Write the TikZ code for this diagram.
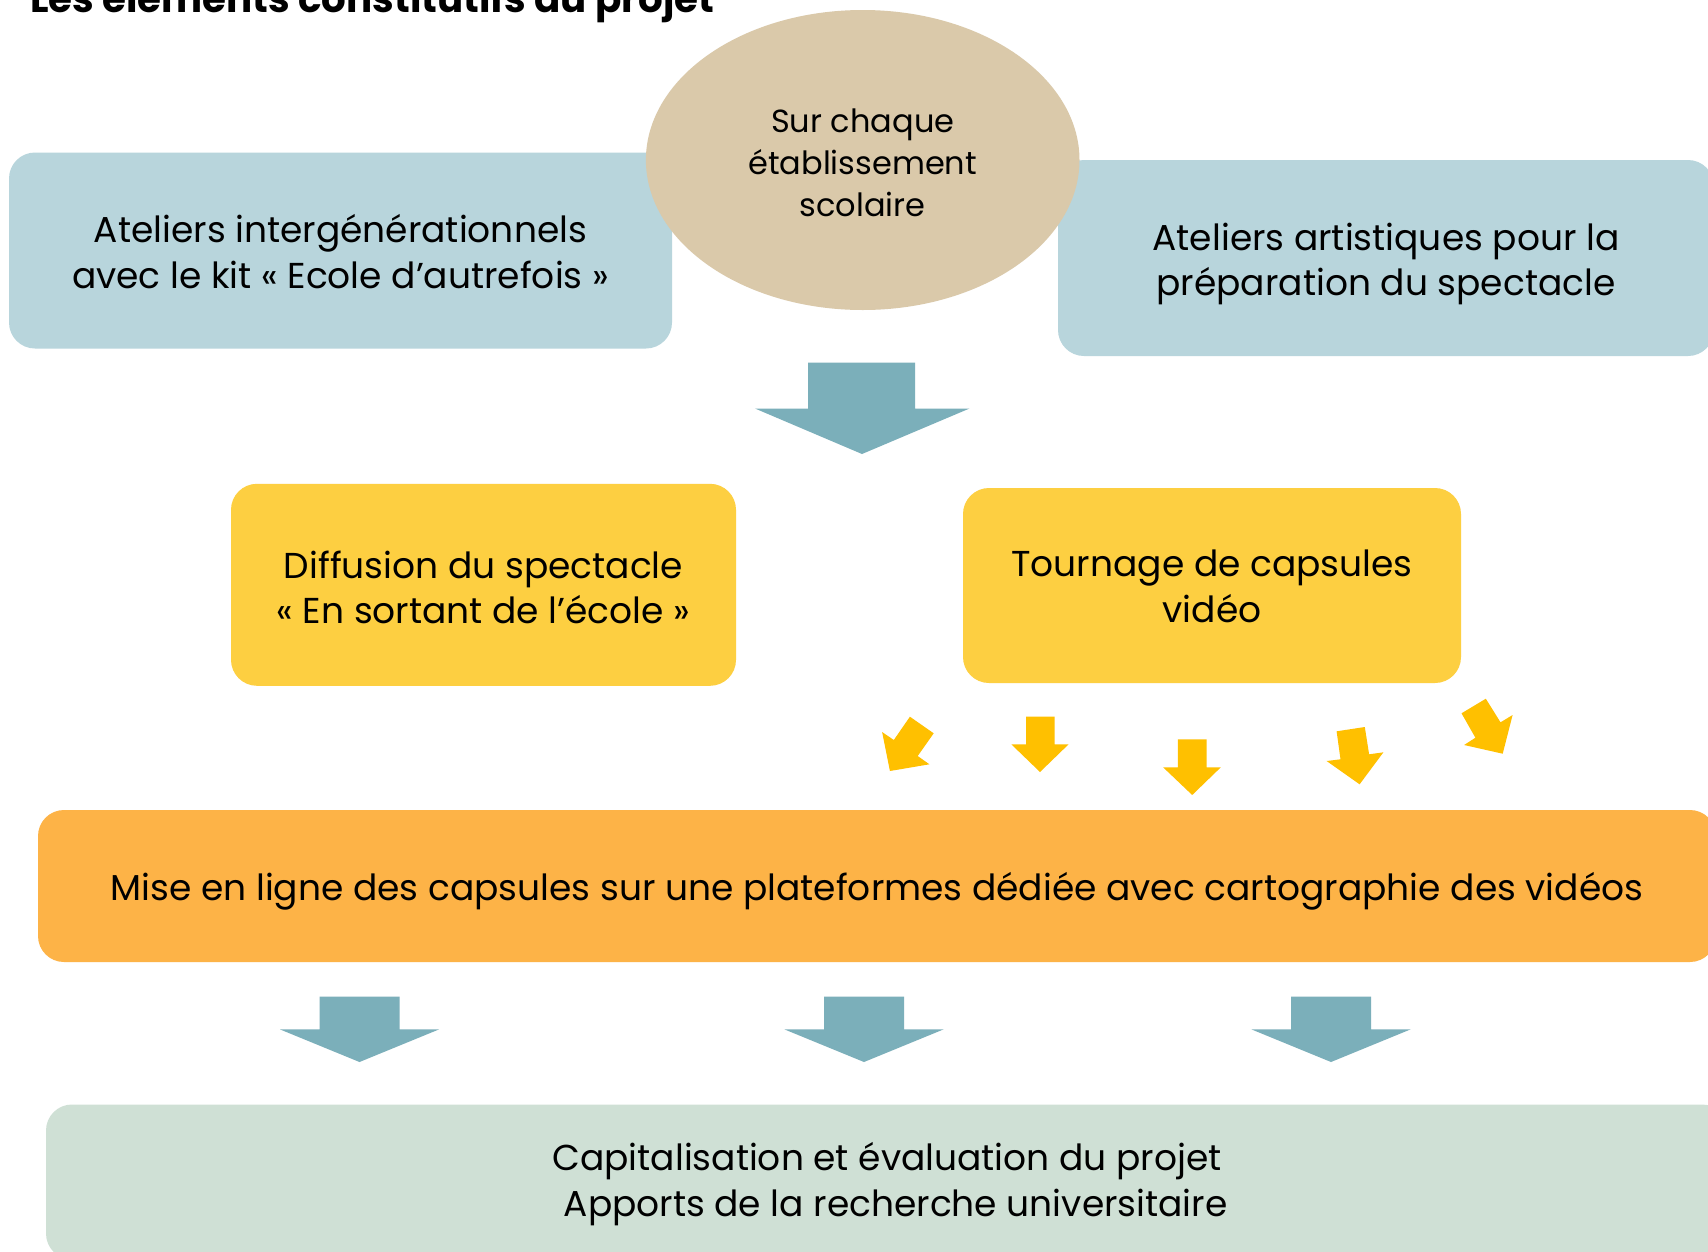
\documentclass[tikz,border=0pt]{standalone}
\usepackage{fontspec}
\setmainfont{Poppins}
\usetikzlibrary{shapes.geometric}
\definecolor{bluebox}{HTML}{B8D5DC}
\definecolor{beigeell}{HTML}{DAC9AA}
\definecolor{tealarrow}{HTML}{7BAFBA}
\definecolor{yelbox}{HTML}{FDCF41}
\definecolor{yelarrow}{HTML}{FFC000}
\definecolor{orangebox}{HTML}{FDB347}
\definecolor{greenbox}{HTML}{CFE0D5}
\begin{document}
\begin{tikzpicture}[x=1pt,y=-1pt,
  box/.style={rounded corners=26pt, inner sep=0pt},
  txt/.style={inner sep=0pt, align=center, font=\fontsize{36}{45.7}\selectfont},
  bigarrow/.style={fill=tealarrow, draw=none},
  smallarrow/.style={fill=yelarrow, draw=none}]
\useasboundingbox (0,0) rectangle (1708,1251);
\clip (0,0) rectangle (1708,1251);
\fill[white] (0,0) rectangle (1708,1251);

% title (cut off at the top, as in the reference)
\node[anchor=base west, inner sep=0pt, font=\fontsize{38.8}{40}\selectfont\bfseries] (title) at (30,12) {Les éléments constitutifs du projet};

% top row
\node[box, fill=bluebox, minimum width=663pt, minimum height=196pt] (atelierA) at (340.5,250.5) {};
\node[txt] (atelierAt) at ([yshift=-1pt]atelierA.center) {Ateliers intergénérationnels\\avec le kit « Ecole d’autrefois »};
\node[box, fill=bluebox, minimum width=656pt, minimum height=196pt] (atelierB) at (1386,258) {};
\node[txt] (atelierBt) at ([yshift=-6pt]atelierB.center) {Ateliers artistiques pour la\\préparation du spectacle};
\node[ellipse, fill=beigeell, inner sep=0pt, minimum width=433.6pt, minimum height=300pt] (etab) at (862.7,160) {};
\node[inner sep=0pt, align=center, font=\fontsize{32}{42}\selectfont] (etabt) at ([yshift=-2.5pt]etab.center)
  {Sur chaque\\établissement\\scolaire};

% big teal arrow
\fill[bigarrow] (808,362.7) -- (915,362.7) -- (915,408.5) -- (969.5,408.5) -- (862,454) -- (755,408.5) -- (808,408.5) -- cycle;

% middle row
\node[box, fill=yelbox, minimum width=505pt, minimum height=202pt] (diffusion) at (483.5,584.8) {};
\node[txt] (diffusiont) at ([yshift=-2.5pt]diffusion.center) {Diffusion du spectacle\\« En sortant de l’école »};
\node[box, fill=yelbox, minimum width=498pt, minimum height=195pt] (tournage) at (1212,585.5) {};
\node[txt] (tournaget) at ([yshift=-1pt]tournage.center) {Tournage de capsules\\vidéo};

% small yellow arrows
\fill[smallarrow] (909.9,716.7) -- (933.7,733.3) -- (917.7,756) -- (929.4,764.3) -- (889.9,771) -- (882.1,732) -- (893.8,740) -- cycle;
\fill[smallarrow] (1026.1,716.7) -- (1054.7,716.7) -- (1054.7,744.3) -- (1068.6,744.3) -- (1040,772) -- (1011.3,744.3) -- (1026.1,744.3) -- cycle;
\fill[smallarrow] (1177.9,739.3) -- (1206.5,739.3) -- (1206.5,767.3) -- (1220.8,767.3) -- (1192.2,795) -- (1163.1,767.3) -- (1177.9,767.3) -- cycle;
\fill[smallarrow] (1336.6,731.3) -- (1364.8,727) -- (1369.1,754.3) -- (1383.4,752.3) -- (1359.6,784.3) -- (1326.6,761) -- (1340.5,759.3) -- cycle;
\fill[smallarrow] (1461.5,713.3) -- (1485.8,698.7) -- (1500.5,722.3) -- (1512.6,715) -- (1502.7,753.7) -- (1464.1,745) -- (1475.4,737.7) -- cycle;

% orange bar
\node[box, fill=orangebox, minimum width=1678pt, minimum height=152pt] (miseenligne) at (877,886) {};
\node[txt] (miseenlignet) at ([yshift=-5.5pt]miseenligne.center)
  {Mise en ligne des capsules sur une plateformes dédiée avec cartographie des vidéos};

% three teal arrows
\foreach \cx in {359.5,864,1331}{
  \fill[bigarrow] (\cx-40,996.7) -- (\cx+40,996.7) -- (\cx+40,1029.4) -- (\cx+79.5,1029.4) -- (\cx,1062) -- (\cx-79.5,1029.4) -- (\cx-40,1029.4) -- cycle;
}

% bottom green box
\node[box, fill=greenbox, minimum width=1682pt, minimum height=155pt] (capital) at (887,1182) {};
\node[txt] (capitalt) at ([yshift=-2pt]capital.center)
  {Capitalisation et évaluation du projet\\ \hphantom{x}Apports de la recherche universitaire};
\end{tikzpicture}
\end{document}
